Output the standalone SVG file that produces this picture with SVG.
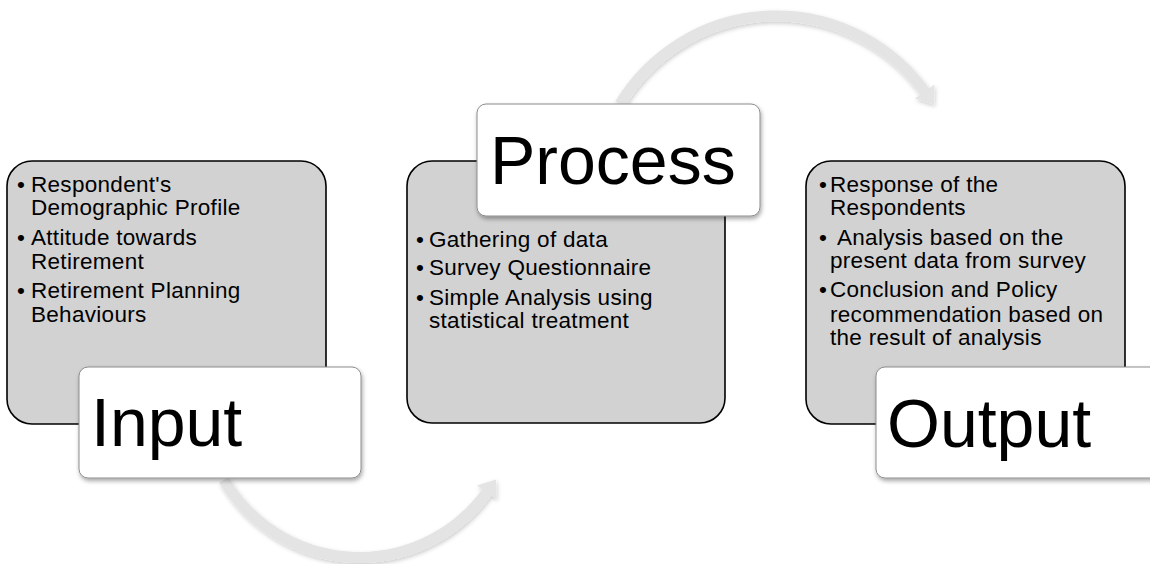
<svg xmlns="http://www.w3.org/2000/svg" width="1150" height="564" viewBox="0 0 1150 564">
  <style>
    .box { fill: #d2d2d2; stroke: #000; stroke-width: 1.6; }
    .lbl { fill: #fff; stroke: #8c8c8c; stroke-width: 1; }
    .big { font-family: "Liberation Sans", Arial, sans-serif; font-size: 68px; fill: #000; }
    .txt { font-family: "Liberation Sans", Arial, sans-serif; font-size: 22.5px; letter-spacing: 0.3px; fill: #000; }
    .arc { fill: none; stroke: #e4e4e4; stroke-width: 11; }
  </style>
  <defs>
    <filter id="sh" x="-20%" y="-20%" width="140%" height="150%">
      <feDropShadow dx="1" dy="2.5" stdDeviation="2" flood-color="#000" flood-opacity="0.35"/>
    </filter>
    <filter id="ash" x="-20%" y="-20%" width="140%" height="150%">
      <feDropShadow dx="1" dy="2" stdDeviation="2" flood-color="#000" flood-opacity="0.2"/>
    </filter>
    <marker id="head" markerUnits="userSpaceOnUse" viewBox="0 0 16 24" refX="0.5" refY="12" markerWidth="16" markerHeight="24" orient="auto">
      <path d="M0,0 L16,12 L0,24 Z" fill="#e4e4e4"/>
    </marker>
  </defs>

  <g id="connectors" filter="url(#ash)">
    <path class="arc" d="M 620 104 A 183 183 0 0 1 925 92" marker-end="url(#head)"/>
    <path class="arc" d="M 224 480 A 157 157 0 0 0 487 492" marker-end="url(#head)"/>
  </g>

  <g id="input">
    <rect class="box" x="7" y="161" width="319" height="263" rx="25"/>
    <text class="txt"><tspan x="17" y="192">•</tspan><tspan x="31" y="192">Respondent's</tspan><tspan x="31" y="215">Demographic Profile</tspan></text>
    <text class="txt"><tspan x="17" y="245">•</tspan><tspan x="31" y="245">Attitude towards</tspan><tspan x="31" y="269">Retirement</tspan></text>
    <text class="txt"><tspan x="17" y="298">•</tspan><tspan x="31" y="298">Retirement Planning</tspan><tspan x="31" y="322">Behaviours</tspan></text>
    <rect class="lbl" x="79" y="367" width="282" height="111" rx="9" filter="url(#sh)"/>
    <text class="big" x="91" y="446">Input</text>
  </g>

  <g id="process">
    <rect class="box" x="407" y="161" width="318" height="262" rx="25"/>
    <text class="txt"><tspan x="416" y="247">•</tspan><tspan x="429" y="247">Gathering of data</tspan></text>
    <text class="txt"><tspan x="416" y="275">•</tspan><tspan x="429" y="275">Survey Questionnaire</tspan></text>
    <text class="txt"><tspan x="416" y="305">•</tspan><tspan x="429" y="305">Simple Analysis using</tspan><tspan x="429" y="328">statistical treatment</tspan></text>
    <rect class="lbl" x="477" y="104" width="283" height="112" rx="9" filter="url(#sh)"/>
    <text class="big" x="490" y="184">Process</text>
  </g>

  <g id="output">
    <rect class="box" x="806" y="161" width="319" height="263" rx="25"/>
    <text class="txt"><tspan x="819" y="192">•</tspan><tspan x="830" y="192">Response of the</tspan><tspan x="830" y="215">Respondents</tspan></text>
    <text class="txt"><tspan x="819" y="245">•</tspan><tspan x="837" y="245">Analysis based on the</tspan><tspan x="830" y="268">present data from survey</tspan></text>
    <text class="txt"><tspan x="819" y="297">•</tspan><tspan x="830" y="297">Conclusion and Policy</tspan><tspan x="830" y="322">recommendation based on</tspan><tspan x="830" y="345">the result of analysis</tspan></text>
    <rect class="lbl" x="876" y="367" width="283" height="111" rx="9" filter="url(#sh)"/>
    <text class="big" x="887" y="447">Output</text>
  </g>
</svg>
